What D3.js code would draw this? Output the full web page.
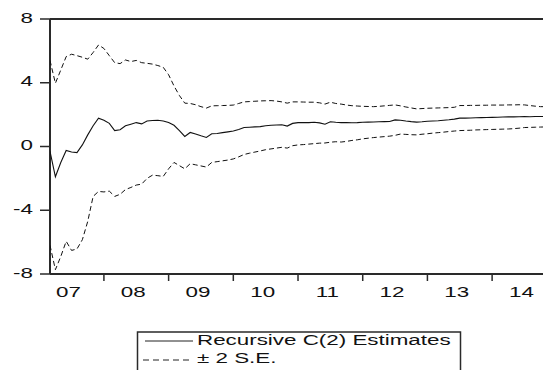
<!DOCTYPE html>
<html>
<head>
<meta charset="utf-8">
<script src="https://cdn.jsdelivr.net/npm/d3@7"></script>
<style>
  html, body { margin: 0; padding: 0; background: #fff; }
  svg { display: block; }
  text { font-family: "Liberation Sans", Arial, sans-serif; font-size: 14px; fill: #111; }
</style>
</head>
<body>
<svg id="chart" width="543" height="370"></svg>
<script>
// Recursive coefficient estimate C(2) with ±2 standard-error bands, monthly 2007M03–2014M12
const startYear = 2007, startMonth = 3;

const estimate = [
  -0.3, -1.9, -1.0, -0.25, -0.35, -0.38, 0.1, 0.73, 1.3, 1.78,
  1.65, 1.45, 1.0, 1.05, 1.3, 1.4, 1.5, 1.42, 1.6, 1.63,
  1.65, 1.6, 1.5, 1.33, 1.0, 0.63, 0.88, 0.78, 0.67, 0.57,
  0.8, 0.82, 0.87, 0.92, 0.97, 1.07, 1.19, 1.21, 1.23, 1.25,
  1.3, 1.33, 1.35, 1.36, 1.28, 1.45, 1.5, 1.5, 1.5, 1.52,
  1.48, 1.4, 1.55, 1.52, 1.5, 1.5, 1.49, 1.5, 1.52, 1.53,
  1.54, 1.55, 1.56, 1.57, 1.67, 1.65, 1.6, 1.56, 1.53, 1.55,
  1.58, 1.6, 1.62, 1.65, 1.68, 1.72, 1.78, 1.78, 1.79, 1.8,
  1.81, 1.82, 1.83, 1.84, 1.85, 1.86, 1.86, 1.87, 1.88, 1.87,
  1.88, 1.88, 1.89, 1.89
];

const upperBand = [
  5.4, 3.97, 4.8, 5.64, 5.79, 5.7, 5.6, 5.48, 5.9, 6.37,
  6.15, 5.7, 5.26, 5.2, 5.43, 5.33, 5.4, 5.26, 5.22, 5.17,
  5.08, 4.97, 4.5, 3.8, 3.2, 2.72, 2.7, 2.62, 2.5, 2.41,
  2.55, 2.56, 2.57, 2.58, 2.6, 2.7, 2.8, 2.82, 2.84, 2.86,
  2.87, 2.88, 2.85, 2.8, 2.72, 2.8, 2.8, 2.79, 2.78, 2.78,
  2.74, 2.66, 2.78, 2.7, 2.66, 2.6, 2.56, 2.54, 2.52, 2.51,
  2.5, 2.52, 2.55, 2.58, 2.61, 2.55, 2.48, 2.42, 2.36, 2.38,
  2.4, 2.41, 2.42, 2.43, 2.44, 2.46, 2.57, 2.57, 2.58, 2.58,
  2.59, 2.59, 2.6, 2.6, 2.6, 2.61, 2.61, 2.62, 2.61, 2.57,
  2.53, 2.5, 2.5, 2.51
];

const lowerBand = [
  -6.2, -7.73, -6.9, -5.95, -6.52, -6.43, -5.85, -4.7, -3.13, -2.82,
  -2.85, -2.8, -3.13, -3.0, -2.7, -2.57, -2.42, -2.36, -2.0, -1.8,
  -1.83, -1.88, -1.4, -1.0, -1.2, -1.4, -1.08, -1.15, -1.22, -1.29,
  -1.0, -0.95, -0.9, -0.85, -0.78, -0.65, -0.5, -0.42, -0.35, -0.28,
  -0.2, -0.15, -0.1, -0.05, -0.1, 0.05, 0.1, 0.12, 0.15, 0.18,
  0.21, 0.22, 0.27, 0.3, 0.28, 0.32, 0.38, 0.42, 0.48, 0.52,
  0.56, 0.59, 0.62, 0.65, 0.7, 0.78, 0.76, 0.74, 0.73, 0.77,
  0.8, 0.84, 0.87, 0.9, 0.94, 0.97, 1.0, 1.01, 1.02, 1.04,
  1.05, 1.06, 1.07, 1.08, 1.09, 1.1, 1.12, 1.15, 1.19, 1.2,
  1.21, 1.22, 1.23, 1.24
];

const yTicks = [-8, -4, 0, 4, 8];
const yearTicks = [2008, 2009, 2010, 2011, 2012, 2013, 2014];
const yearLabels = ["07", "08", "09", "10", "11", "12", "13", "14"];
const legendLabels = ["Recursive C(2) Estimates", "\u00B1 2 S.E."];

// observation dates as decimal years
const dates = estimate.map((_, i) => startYear + (startMonth - 1 + i) / 12);

const svg = d3.select("#chart");
const plot = { left: 50, top: 19, bottom: 274, yearWidth: 64.7 };
const endYear = 2015;

const x = d3.scaleLinear()
  .domain([dates[0], endYear])
  .range([plot.left, plot.left + (endYear - dates[0]) * plot.yearWidth]);
const y = d3.scaleLinear().domain([-8, 8]).range([plot.bottom, plot.top]);

const sx = 1.6; // horizontal stretch applied to all text

function label(g, px, py, str, anchor) {
  g.append("g")
    .attr("transform", `translate(${px},${py}) scale(${sx},1)`)
    .append("text")
    .attr("text-anchor", anchor)
    .text(str);
}

// frame
const axisColor = "#2a2a2a";
svg.append("line")
  .attr("x1", x.range()[0]).attr("x2", x.range()[1])
  .attr("y1", plot.top).attr("y2", plot.top)
  .attr("stroke", axisColor).attr("stroke-width", 2);
svg.append("line")
  .attr("x1", x.range()[0]).attr("x2", x.range()[1])
  .attr("y1", plot.bottom).attr("y2", plot.bottom)
  .attr("stroke", axisColor).attr("stroke-width", 2);
svg.append("line")
  .attr("x1", plot.left).attr("x2", plot.left)
  .attr("y1", plot.top).attr("y2", plot.bottom)
  .attr("stroke", axisColor).attr("stroke-width", 2);
svg.append("line")
  .attr("x1", x.range()[1]).attr("x2", x.range()[1])
  .attr("y1", plot.top).attr("y2", plot.bottom)
  .attr("stroke", axisColor).attr("stroke-width", 2);

// y ticks and labels
const yAxis = svg.append("g");
yTicks.forEach(v => {
  yAxis.append("line")
    .attr("x1", plot.left - 10).attr("x2", plot.left)
    .attr("y1", y(v)).attr("y2", y(v))
    .attr("stroke", axisColor).attr("stroke-width", 1.5);
  label(yAxis, 33, y(v) + 3.5, String(v), "end");
});

// x ticks at year boundaries, labels centred on each year
const xAxis = svg.append("g");
yearTicks.forEach(t => {
  xAxis.append("line")
    .attr("x1", x(t)).attr("x2", x(t))
    .attr("y1", plot.bottom).attr("y2", plot.bottom + 7)
    .attr("stroke", axisColor).attr("stroke-width", 1.5);
});
yearLabels.forEach((s, i) => {
  label(xAxis, x(startYear + i + 0.5) - 3, 297, s, "middle");
});

// series
const clip = svg.append("clipPath").attr("id", "plotclip")
  .append("rect")
  .attr("x", plot.left).attr("y", plot.top)
  .attr("width", x.range()[1] - plot.left).attr("height", plot.bottom - plot.top);

const line = d3.line().x((d, i) => x(dates[i])).y(d => y(d));
const series = svg.append("g").attr("clip-path", "url(#plotclip)");

series.append("path").datum(upperBand)
  .attr("d", line).attr("fill", "none")
  .attr("stroke", "#111").attr("stroke-width", 1)
  .attr("stroke-dasharray", "5,3");
series.append("path").datum(lowerBand)
  .attr("d", line).attr("fill", "none")
  .attr("stroke", "#111").attr("stroke-width", 1)
  .attr("stroke-dasharray", "5,3");
series.append("path").datum(estimate)
  .attr("d", line).attr("fill", "none")
  .attr("stroke", "#111").attr("stroke-width", 1.1);

// legend
const legend = svg.append("g");
legend.append("rect")
  .attr("x", 137.5).attr("y", 332)
  .attr("width", 323).attr("height", 60)
  .attr("fill", "#fff").attr("stroke", axisColor).attr("stroke-width", 1.5);
legend.append("line")
  .attr("x1", 145).attr("x2", 193).attr("y1", 341).attr("y2", 341)
  .attr("stroke", "#222").attr("stroke-width", 1);
legend.append("line")
  .attr("x1", 143).attr("x2", 193).attr("y1", 360).attr("y2", 360)
  .attr("stroke", "#222").attr("stroke-width", 1)
  .attr("stroke-dasharray", "6,4");
label(legend, 197, 344.5, legendLabels[0], "start");
label(legend, 197, 363, legendLabels[1], "start");
</script>
</body>
</html>
